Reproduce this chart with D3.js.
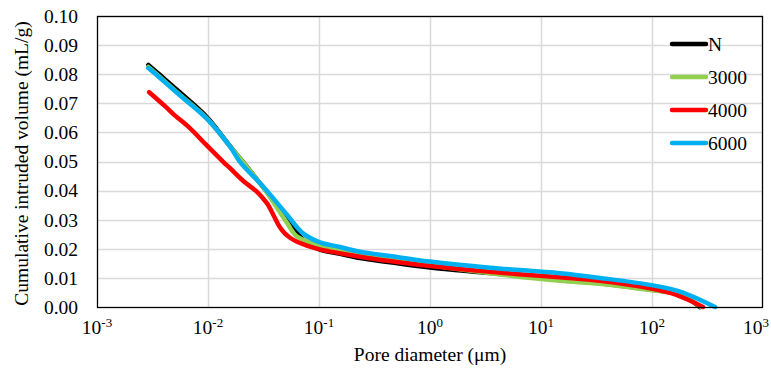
<!DOCTYPE html>
<html>
<head>
<meta charset="utf-8">
<script src="https://cdn.jsdelivr.net/npm/d3@7"></script>
<style>
  html, body { margin: 0; padding: 0; background: #fff; }
  svg { display: block; }
</style>
</head>
<body>
<svg id="chart" width="771" height="369" font-family="Liberation Serif, Times New Roman, DejaVu Serif, serif"></svg>
<script>
// ---- data ----
const seriesNames = ["N", "3000", "4000", "6000"];
const seriesColors = ["#000000", "#92D050", "#FF0000", "#00B0F0"];

const diamN = [0.0029, 0.0037, 0.0056, 0.0097, 0.0158, 0.0315, 0.0515, 0.0718, 0.102, 0.155, 0.234, 0.436, 1.0, 3.47, 14.8, 34, 96, 179, 270];
const volN  = [0.0832, 0.0797, 0.0737, 0.0654, 0.0553, 0.0411, 0.0305, 0.0232, 0.0197, 0.0183, 0.0168, 0.0154, 0.0136, 0.0117, 0.0094, 0.0082, 0.0060, 0.0043, 0.0];

const diam3000 = [0.0029, 0.0037, 0.0056, 0.0097, 0.0158, 0.0315, 0.0515, 0.0634, 0.102, 0.155, 0.234, 0.436, 1.0, 3.47, 14.8, 34, 96, 179, 276];
const vol3000  = [0.0825, 0.0790, 0.0729, 0.0649, 0.0552, 0.0410, 0.0289, 0.0242, 0.0212, 0.0195, 0.0179, 0.0163, 0.0143, 0.0116, 0.0090, 0.0080, 0.0058, 0.0042, 0.0];

const diam4000 = [0.00295, 0.0041, 0.00487, 0.0069, 0.0097, 0.0137, 0.0158, 0.0208, 0.0272, 0.0315, 0.0346, 0.0388, 0.0446, 0.0494, 0.0548, 0.0634, 0.0775, 0.102, 0.234, 0.436, 1.0, 3.47, 14.8, 34, 96, 168, 288];
const vol4000  = [0.0738, 0.0690, 0.0663, 0.0614, 0.0556, 0.0499, 0.0477, 0.0433, 0.0398, 0.0372, 0.0352, 0.0316, 0.0273, 0.0252, 0.0238, 0.0224, 0.0211, 0.0198, 0.0173, 0.0158, 0.0141, 0.0121, 0.0102, 0.0090, 0.0064, 0.0041, 0.0];

const diam6000 = [0.0029, 0.0037, 0.0056, 0.0097, 0.0158, 0.0194, 0.0315, 0.0515, 0.0718, 0.102, 0.155, 0.234, 0.436, 1.0, 3.47, 14.8, 34, 96, 179, 370];
const vol6000  = [0.0821, 0.0787, 0.0727, 0.0648, 0.0551, 0.0499, 0.0413, 0.0317, 0.0253, 0.0222, 0.0206, 0.0190, 0.0175, 0.0156, 0.0135, 0.0116, 0.0100, 0.0076, 0.0053, 0.0];

const xTickExps = [-3, -2, -1, 0, 1, 2, 3];
const yTicks = [0, 0.01, 0.02, 0.03, 0.04, 0.05, 0.06, 0.07, 0.08, 0.09, 0.10];

const xTitle = "Pore diameter (\u03bcm)";
const yTitle = "Cumulative intruded volume (mL/g)";

// ---- layout ----
const svg = d3.select("#chart");
const plot = { left: 97, right: 763, top: 16, bottom: 307 };
const fs = 19.5;

const x = d3.scaleLog().domain([1e-3, 1e3]).range([plot.left, plot.right]);
const y = d3.scaleLinear().domain([0, 0.10]).range([plot.bottom, plot.top]);

// gridlines
const grid = svg.append("g");
grid.selectAll("line.h").data(yTicks.slice(1)).join("line")
  .attr("x1", plot.left).attr("x2", plot.right)
  .attr("y1", d => Math.round(y(d)) + 0.5).attr("y2", d => Math.round(y(d)) + 0.5)
  .attr("stroke", "#d9d9d9").attr("stroke-width", 1.5);
grid.selectAll("line.v").data(xTickExps.slice(1, -1)).join("line")
  .attr("y1", plot.top).attr("y2", plot.bottom)
  .attr("x1", d => Math.round(x(Math.pow(10, d))) + 0.5).attr("x2", d => Math.round(x(Math.pow(10, d))) + 0.5)
  .attr("stroke", "#d9d9d9").attr("stroke-width", 1.5);

// series
const series = [
  { name: seriesNames[0], color: seriesColors[0], d: diamN, v: volN },
  { name: seriesNames[1], color: seriesColors[1], d: diam3000, v: vol3000 },
  { name: seriesNames[2], color: seriesColors[2], d: diam4000, v: vol4000 },
  { name: seriesNames[3], color: seriesColors[3], d: diam6000, v: vol6000 }
];

const line = d3.line()
  .x(p => x(p[0]))
  .y(p => y(p[1]))
  .curve(d3.curveCatmullRom.alpha(0.5));

svg.append("g").selectAll("path").data(series).join("path")
  .attr("d", s => line(s.d.map((dd, i) => [dd, s.v[i]])))
  .attr("fill", "none")
  .attr("stroke", s => s.color)
  .attr("stroke-width", 4.5)
  .attr("stroke-linejoin", "round")
  .attr("stroke-linecap", "round");

// frame
svg.append("rect")
  .attr("x", plot.left + 0.5).attr("y", plot.top + 0.5)
  .attr("width", plot.right - plot.left - 1).attr("height", plot.bottom - plot.top)
  .attr("fill", "none").attr("stroke", "#000").attr("stroke-width", 1.3);

// y tick labels
svg.append("g").selectAll("text").data(yTicks).join("text")
  .attr("x", 78).attr("y", d => y(d))
  .attr("dy", "0.35em")
  .attr("text-anchor", "end")
  .attr("font-size", fs)
  .text(d => d.toFixed(2));

// x tick labels
const xt = svg.append("g").selectAll("text").data(xTickExps).join("text")
  .attr("x", d => Math.min(x(Math.pow(10, d)), 756))
  .attr("y", 334)
  .attr("text-anchor", "middle")
  .attr("font-size", fs);
xt.append("tspan").text("10");
xt.append("tspan").attr("dy", -7).attr("font-size", 13).text(d => String(d));

// axis titles
svg.append("text")
  .attr("x", (plot.left + plot.right) / 2).attr("y", 361)
  .attr("text-anchor", "middle")
  .attr("font-size", fs)
  .text(xTitle);

svg.append("text")
  .attr("transform", `translate(28,${(plot.top + plot.bottom) / 2 + 2}) rotate(-90)`)
  .attr("text-anchor", "middle")
  .attr("font-size", fs)
  .text(yTitle);

// legend
const leg = svg.append("g").selectAll("g").data(series).join("g")
  .attr("transform", (s, i) => `translate(0,${44 + i * 33})`);
leg.append("line")
  .attr("x1", 672).attr("x2", 706).attr("y1", 0).attr("y2", 0)
  .attr("stroke", s => s.color).attr("stroke-width", 4.5)
  .attr("stroke-linecap", "round");
leg.append("text")
  .attr("x", 708).attr("y", 0).attr("dy", "0.35em")
  .attr("font-size", fs)
  .text(s => s.name);
</script>
</body>
</html>
